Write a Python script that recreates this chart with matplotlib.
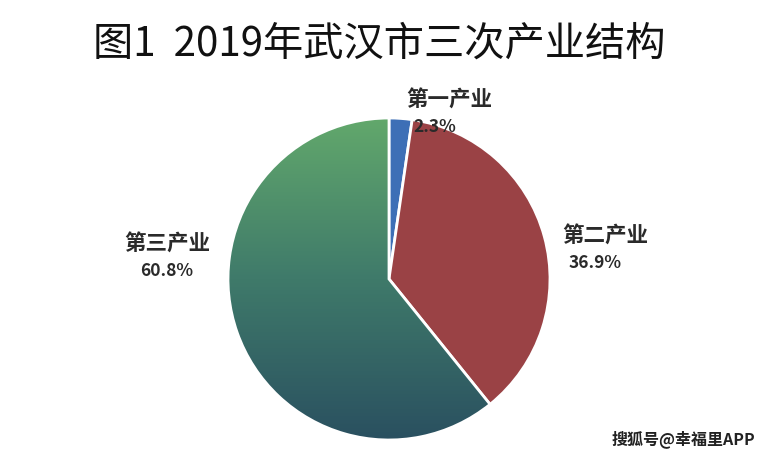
import numpy as np
import matplotlib.pyplot as plt
from matplotlib.colors import LinearSegmentedColormap

plt.rcParams['font.family'] = ['Noto Sans CJK SC', 'DejaVu Sans']

# 数据
labels = ['第一产业', '第二产业', '第三产业']
shares = [2.3, 36.9, 60.8]
colors = ['#3d6fb6', '#9a4245', '#5c9e68']

fig = plt.figure(figsize=(7.64, 4.6), dpi=100)
ax = fig.add_axes([0, 0, 1, 1])

cx, cy, r = 389, 180, 161
wedges, _ = ax.pie(shares, colors=colors, startangle=90, counterclock=False,
                   center=(cx, cy), radius=r, frame=True,
                   wedgeprops=dict(edgecolor='white', linewidth=2))

# 第三产业 渐变填充
cmap = LinearSegmentedColormap.from_list('g', ['#2a5060', '#3f7a6a', '#62a86c'])
grad = np.linspace(0, 1, 256).reshape(-1, 1)
im = ax.imshow(grad, cmap=cmap, origin='lower', aspect='auto',
               extent=(cx - r, cx + r, cy - r, cy + r), zorder=wedges[2].get_zorder())
im.set_clip_path(wedges[2])
wedges[2].set_facecolor('none')
wedges[2].set_zorder(im.get_zorder() + 1)

ax.set_xlim(0, 764)
ax.set_ylim(0, 460)
ax.set_aspect('equal')
ax.axis('off')

# 标签
pos = [(449, 360), (605, 224), (167, 216)]
offs = [-14, -10, 0]
for (x, y), dx, lab, v in zip(pos, offs, labels, shares):
    ax.text(x, y, lab, ha='center', va='center', fontsize=15.5,
            fontweight='bold', color='#2a2a2a')
    ax.text(x + dx, y - 27, f'{v:.1f}%', ha='center', va='center', fontsize=12.5,
            fontweight='bold', color='#2a2a2a')

fig.text(0.497, 0.905, '图1  2019年武汉市三次产业结构', ha='center', va='center',
         fontsize=29, color='#111111')
fig.text(0.895, 0.045, '搜狐号@幸福里APP', ha='center', va='center',
         fontsize=11.5, fontweight='bold', color='#222222')

fig.savefig('out.png', dpi=100, facecolor='white')
